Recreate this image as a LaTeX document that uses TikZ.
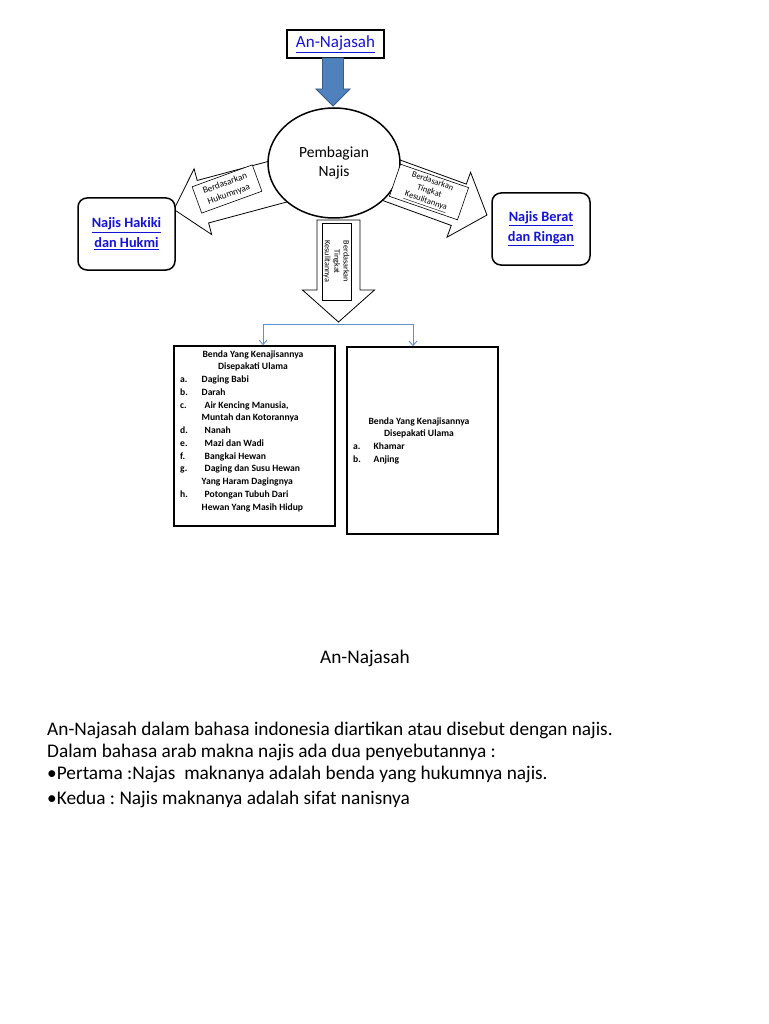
\documentclass[tikz,border=0pt]{standalone}
\usepackage{fontspec}
\setmainfont{Carlito}
\frenchspacing
\usetikzlibrary{calc,arrows.meta,shapes.geometric}
\definecolor{linkblue}{RGB}{20,20,215}
\definecolor{arrowblue}{RGB}{79,129,189}
\definecolor{arrowedge}{RGB}{56,93,138}
\definecolor{connblue}{RGB}{95,145,205}
\tikzset{
  blockarrow/.style={draw=black, fill=white, line width=0.8},
  bluearrow/.style={draw=arrowedge, fill=arrowblue, line width=0.9},
  tagbox/.style={draw=black, fill=white, line width=0.6, align=center, inner sep=1, font=\fontsize{8.6}{10.2}\selectfont},
  roundbox/.style={draw=black, line width=1.5, rounded corners=9, fill=white},
  listbox/.style={draw=black, line width=1.6, fill=white},
  linktext/.style={text=linkblue, align=center, font=\bfseries\fontsize{14.3}{20}\selectfont},
  item/.style={anchor=base west, inner sep=0, font=\bfseries\fontsize{9.6}{11}\selectfont},
  itemc/.style={anchor=base, inner sep=0, font=\bfseries\fontsize{9.6}{11}\selectfont},
  para/.style={anchor=base west, inner sep=0, font=\fontsize{19.3}{22}\selectfont},
  conn/.style={draw=connblue, line width=0.9},
  connarrow/.style={conn, -{Straight Barb[length=4.5, width=8, line width=0.9]}},
}
\begin{document}
\begin{tikzpicture}[x=1pt, y=-1pt]
\useasboundingbox[fill=white] (0,0) rectangle (768,1024);

% top box and blue arrow
\node[draw=black, line width=1.2, minimum width=97, minimum height=28, inner sep=0, text=linkblue,
      font=\fontsize{17}{20}\selectfont] (top) at (335.5,44) {\underline{An-Najasah}};
\begin{scope}[shift={(333,58)}, rotate=-90]
  \draw[bluearrow] (0,-10.5) -- (31,-10.5) -- (31,-17) -- (48,0) -- (31,17) -- (31,10.5) -- (0,10.5) -- cycle;
\end{scope}

% white block arrows (drawn before the ellipse so that their tails lie under it)
\begin{scope}[shift={(285,179.7)}, rotate=195]
  \draw[blockarrow] (0,-22) -- (85,-22) -- (85,-34) -- (115,0) -- (85,34) -- (85,22) -- (0,22) -- cycle;
\end{scope}
\begin{scope}[shift={(378.9,175.7)}, rotate=-20]
  \draw[blockarrow] (0,-22) -- (85,-22) -- (85,-34.5) -- (115,0) -- (85,34.5) -- (85,22) -- (0,22) -- cycle;
\end{scope}
\begin{scope}[shift={(338.5,220)}, rotate=-90]
  \draw[blockarrow] (0,-21.5) -- (70,-21.5) -- (70,-36) -- (102,0) -- (70,36) -- (70,21.5) -- (0,21.5) -- cycle;
\end{scope}

% ellipse
\node[ellipse, draw=black, line width=1.5, fill=white, minimum width=132, minimum height=110,
      align=center, font=\fontsize{15.5}{19.5}\selectfont] (pemb) at (334,163) {Pembagian\\Najis};

% arrow tags
\node[tagbox, font=\fontsize{9.2}{11.5}\selectfont, minimum width=64, minimum height=28, rotate=20] (tagL) at (227,189) {Berdasarkan\\Hukumnyaa};
\node[tagbox, minimum width=72, minimum height=34, rotate=-19] (tagR) at (429,192) {Berdasarkan\\Tingkat\\\underline{Kesulitannya}};
\node[tagbox, font=\fontsize{8.2}{9.4}\selectfont, minimum width=77, minimum height=29, rotate=-90] (tagD) at (336.5,261.5) {Berdasarkan\\Tingkat\\Kesulitannya};

% rounded boxes
\node[roundbox, minimum width=97, minimum height=72] (hakiki) at (126.5,234) {};
\node[linktext] at (hakiki.center) {\underline{Najis Hakiki}\\\underline{dan Hukmi}};
\node[roundbox, minimum width=98, minimum height=72] (berat) at (541,229) {};
\node[linktext] at (berat.center) {\underline{Najis Berat}\\\underline{dan Ringan}};

% thin blue connector
\coordinate (split) at (338,324);
\coordinate (jL) at (263,324);
\coordinate (jR) at (413,324);
\draw[conn] (jL) -- (jR);

% list boxes
\node[listbox, minimum width=161, minimum height=180] (box1) at (254.5,436) {};
\node[listbox, minimum width=151, minimum height=187] (box2) at (422.5,440.5) {};
\draw[connarrow] (jL) -- (jL |- box1.north);
\draw[connarrow] (jR) -- (jR |- box2.north);

% box 1 text
\node[itemc] (b1h1) at (253,357) {Benda Yang Kenajisannya};
\node[itemc] (b1h2) at (253,369.75) {Disepakati Ulama};
\node[item] (b1a) at (180,382.5) {a.};   \node[item] (b1at) at (201.5,382.5) {Daging Babi};
\node[item] (b1b) at (180,395.25) {b.};  \node[item] (b1bt) at (201.5,395.25) {Darah};
\node[item] (b1c) at (180,408) {c.};     \node[item] (b1ct) at (204.5,408) {Air Kencing Manusia,};
\node[item] (b1c2) at (201.5,420.75) {Muntah dan Kotorannya};
\node[item] (b1d) at (180,433.5) {d.};   \node[item] (b1dt) at (204.5,433.5) {Nanah};
\node[item] (b1e) at (180,446.25) {e.};  \node[item] (b1et) at (204.5,446.25) {Mazi dan Wadi};
\node[item] (b1f) at (180,459) {f.};     \node[item] (b1ft) at (204.5,459) {Bangkai Hewan};
\node[item] (b1g) at (180,471.75) {g.};  \node[item] (b1gt) at (204.5,471.75) {Daging dan Susu Hewan};
\node[item] (b1g2) at (201.5,484.5) {Yang Haram Dagingnya};
\node[item] (b1h) at (180,497.25) {h.};  \node[item] (b1ht) at (204.5,497.25) {Potongan Tubuh Dari};
\node[item] (b1h3) at (201.5,510) {Hewan Yang Masih Hidup};

% box 2 text
\node[itemc] (b2h1) at (419,424) {Benda Yang Kenajisannya};
\node[itemc] (b2h2) at (419,436.75) {Disepakati Ulama};
\node[item] (b2a) at (353,449.5) {a.};   \node[item] (b2at) at (373.5,449.5) {Khamar};
\node[item] (b2b) at (353,462.25) {b.};  \node[item] (b2bt) at (373.5,462.25) {Anjing};

% lower text
\node[anchor=base, inner sep=0, font=\fontsize{19.3}{22}\selectfont] (title) at (365,663) {An-Najasah};
\node[para] (p1) at (47,735) {An-Najasah dalam bahasa indonesia diartikan atau disebut dengan najis.};
\node[para] (p2) at (47,757) {Dalam bahasa arab makna najis ada dua penyebutannya :};
\node[para] (p3) at (47,779) {•Pertama :Najas\ \ maknanya adalah benda yang hukumnya najis.};
\node[para] (p4) at (47,804) {•Kedua : Najis maknanya adalah sifat nanisnya};
\end{tikzpicture}
\end{document}
